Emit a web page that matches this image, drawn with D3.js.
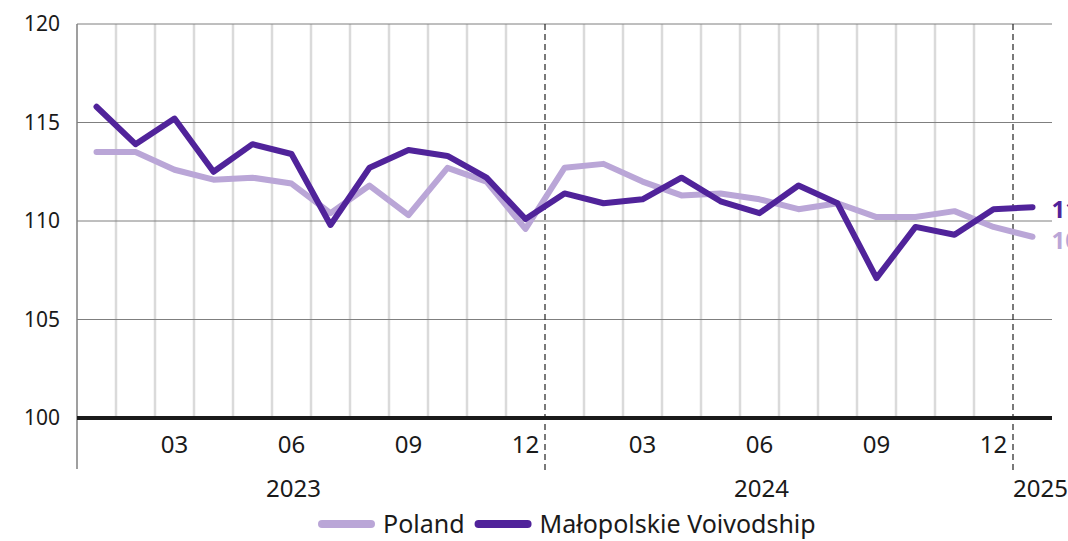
<!DOCTYPE html>
<html>
<head>
<meta charset="utf-8">
<script src="https://cdn.jsdelivr.net/npm/d3@7"></script>
<style>
  body { margin: 0; background: #fff; }
  svg { font-family: "Noto Sans", Roboto, sans-serif; }
</style>
</head>
<body>
<svg id="chart" width="1068" height="541"></svg>
<script>
const MONTHS = [
  "2023-01", "2023-02", "2023-03", "2023-04", "2023-05", "2023-06",
  "2023-07", "2023-08", "2023-09", "2023-10", "2023-11", "2023-12",
  "2024-01", "2024-02", "2024-03", "2024-04", "2024-05", "2024-06",
  "2024-07", "2024-08", "2024-09", "2024-10", "2024-11", "2024-12",
  "2025-01",
];

const POLAND = [
  113.5, 113.5, 112.6, 112.1, 112.2, 111.9, 110.4, 111.8, 110.3, 112.7, 112.0, 109.6,
  112.7, 112.9, 112.0, 111.3, 111.4, 111.1, 110.6, 110.9, 110.2, 110.2, 110.5, 109.7,
  109.2,
];

const MALOPOLSKIE = [
  115.8, 113.9, 115.2, 112.5, 113.9, 113.4, 109.8, 112.7, 113.6, 113.3, 112.2, 110.1,
  111.4, 110.9, 111.1, 112.2, 111.0, 110.4, 111.8, 110.9, 107.1, 109.7, 109.3, 110.6,
  110.7,
];

const Y_TICKS = [100, 105, 110, 115, 120];
const MONTH_TICKS = ["03", "06", "09", "12"];
const YEARS = ["2023", "2024", "2025"];

const SERIES = [
  { name: "Poland", values: POLAND, color: "#baa6d7", end: "109.2" },
  { name: "Małopolskie Voivodship", values: MALOPOLSKIE, color: "#50239a", end: "110.7" },
];

const MARGIN = { top: 24, right: 16, bottom: 123, left: 77 };
const svg = d3.select("#chart");
const W = +svg.attr("width");
const H = +svg.attr("height");

const x = d3.scaleBand().domain(MONTHS).range([MARGIN.left, W - MARGIN.right]);
const bw = x.bandwidth();
const cx = (m) => x(m) + bw / 2;

const y = d3.scaleLinear().domain([100, 120]).range([H - MARGIN.bottom, MARGIN.top]);

// vertical month gridlines (boundaries between months)
const boundaries = MONTHS.slice(1);
svg.append("g")
  .selectAll("line")
  .data(boundaries.filter((m) => !m.endsWith("-01")))
  .join("line")
  .attr("x1", (m) => x(m)).attr("x2", (m) => x(m))
  .attr("y1", y(120)).attr("y2", y(100))
  .attr("stroke", "#dadada")
  .attr("stroke-width", 2.5);

// horizontal gridlines
svg.append("g")
  .selectAll("line")
  .data(Y_TICKS.filter((v) => v !== 100))
  .join("line")
  .attr("x1", MARGIN.left).attr("x2", W - MARGIN.right)
  .attr("y1", (v) => y(v)).attr("y2", (v) => y(v))
  .attr("stroke", "#7f7f7f")
  .attr("stroke-width", 1);

// year separators
svg.append("g")
  .selectAll("line")
  .data(boundaries.filter((m) => m.endsWith("-01")))
  .join("line")
  .attr("x1", (m) => x(m)).attr("x2", (m) => x(m))
  .attr("y1", y(120)).attr("y2", y(100) + 52)
  .attr("stroke", "#222")
  .attr("stroke-width", 1.2)
  .attr("stroke-dasharray", "6,4");

// left axis line
svg.append("line")
  .attr("x1", MARGIN.left).attr("x2", MARGIN.left)
  .attr("y1", y(120)).attr("y2", y(100) + 51)
  .attr("stroke", "#7f7f7f")
  .attr("stroke-width", 1.5);

// baseline 100
svg.append("line")
  .attr("x1", MARGIN.left).attr("x2", W - MARGIN.right)
  .attr("y1", y(100)).attr("y2", y(100))
  .attr("stroke", "#1a1a1a")
  .attr("stroke-width", 4);

// y tick labels
svg.append("g")
  .selectAll("text")
  .data(Y_TICKS)
  .join("text")
  .attr("x", MARGIN.left - 17)
  .attr("y", (v) => y(v))
  .attr("dy", "0.35em")
  .attr("text-anchor", "end")
  .attr("font-size", 21)
  .attr("fill", "#1a1a1a")
  .text((v) => v);

// month tick labels
svg.append("g")
  .selectAll("text")
  .data(MONTHS.filter((m) => MONTH_TICKS.includes(m.slice(5)) && !m.startsWith("2025")))
  .join("text")
  .attr("x", cx)
  .attr("y", y(100) + 35)
  .attr("text-anchor", "middle")
  .attr("font-size", 24)
  .attr("fill", "#1a1a1a")
  .text((m) => m.slice(5));

// year labels
svg.append("g")
  .selectAll("text")
  .data(YEARS)
  .join("text")
  .attr("x", (yr) => (yr === "2025" ? x(yr + "-01") : cx(yr + "-06") + 2))
  .attr("y", y(100) + 79)
  .attr("text-anchor", (yr) => (yr === "2025" ? "start" : "middle"))
  .attr("font-size", 24)
  .attr("fill", "#1a1a1a")
  .text((yr) => yr);

// lines
const line = d3.line()
  .x((d, i) => cx(MONTHS[i]))
  .y((d) => y(d));

svg.append("g")
  .selectAll("path")
  .data(SERIES)
  .join("path")
  .attr("d", (s) => line(s.values))
  .attr("fill", "none")
  .attr("stroke", (s) => s.color)
  .attr("stroke-width", 6)
  .attr("stroke-linejoin", "round")
  .attr("stroke-linecap", "round");

// end labels (cut by the right edge, as in the original)
svg.append("g")
  .selectAll("text")
  .data(SERIES)
  .join("text")
  .attr("x", cx(MONTHS[MONTHS.length - 1]) + 19)
  .attr("y", (s) => y(s.values[s.values.length - 1]) + (s.name === "Poland" ? 4 : 2))
  .attr("dy", "0.35em")
  .attr("font-size", 24)
  .attr("font-weight", "bold")
  .attr("fill", (s) => s.color)
  .text((s) => s.end);

// legend
const legend = svg.append("g").attr("transform", `translate(0, ${H - 17})`);
let lx = 318;
SERIES.forEach((s) => {
  legend.append("line")
    .attr("x1", lx + 4).attr("x2", lx + 53)
    .attr("y1", 0).attr("y2", 0)
    .attr("stroke", s.color)
    .attr("stroke-width", 8)
    .attr("stroke-linecap", "round");
  const t = legend.append("text")
    .attr("x", lx + 65)
    .attr("dy", "0.35em")
    .attr("font-size", 25)
    .attr("fill", "#1a1a1a")
    .text(s.name);
  lx += 65 + t.node().getComputedTextLength() + 10;
});
</script>
</body>
</html>
